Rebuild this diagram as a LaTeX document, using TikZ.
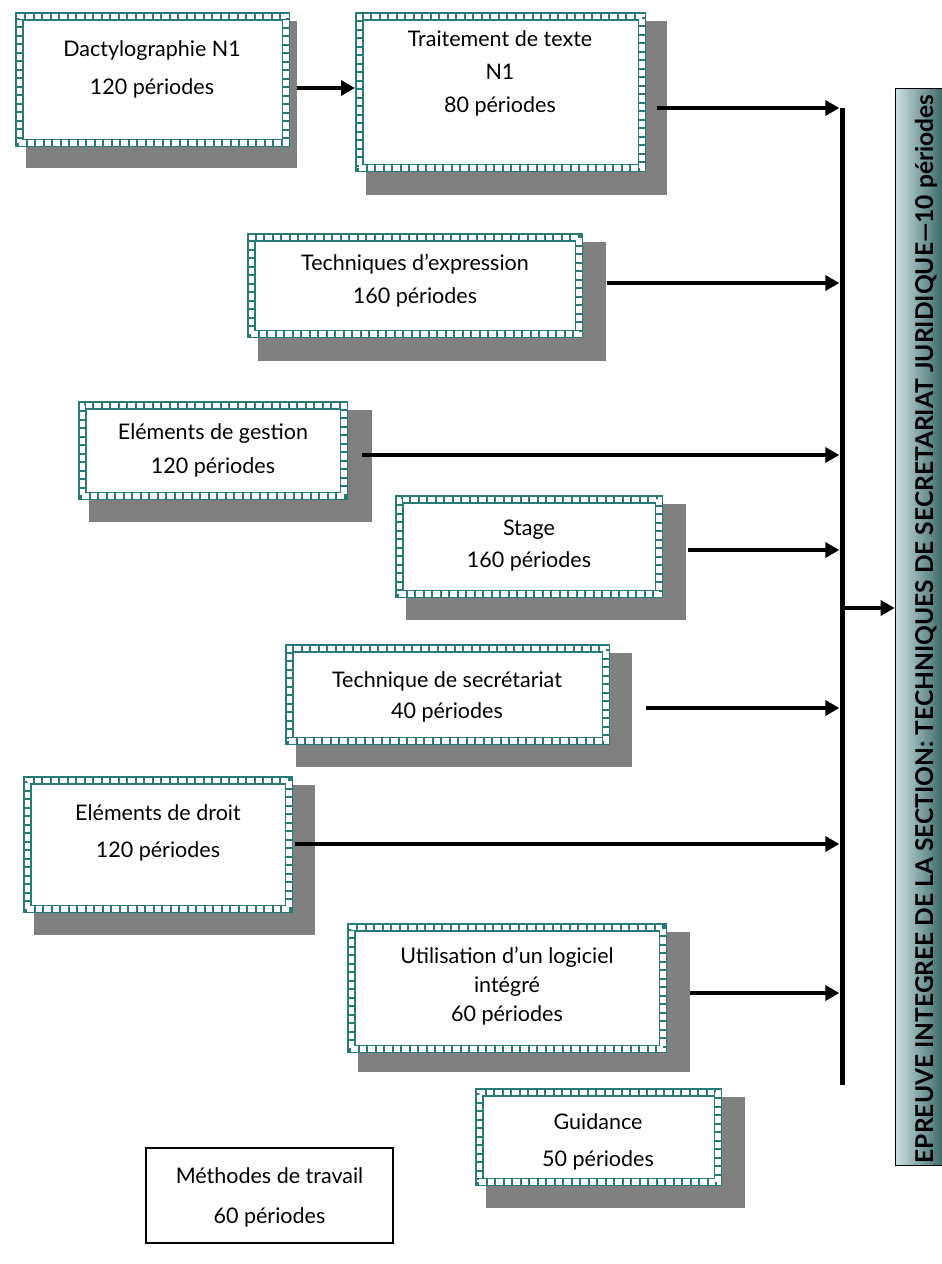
\documentclass[tikz,border=0pt]{standalone}
\usepackage{fontspec}
\setmainfont{Lato}
\usetikzlibrary{arrows.meta}
\definecolor{chain}{RGB}{40,122,118}
\definecolor{shadowgray}{RGB}{128,128,128}
\definecolor{barlight}{RGB}{205,225,225}
\definecolor{bardark}{RGB}{62,108,106}
\tikzset{
  chainbox/.style={draw=chain, line width=8.5pt, fill=white, inner sep=0pt, outer sep=4.25pt,
    postaction={draw=white, line width=5.5pt, dash pattern=on 6.5pt off 2pt}},
  plainbox/.style={draw=black, line width=1.6pt, fill=white, inner sep=0pt, outer sep=0.8pt},
  boxtext/.style={align=center, font=\fontsize{21.5}{#1}\selectfont, inner sep=0pt},
  arr/.style={line width=4pt, -{Triangle[length=14pt,width=15pt]}},
}
% name, x1, y1, x2, y2, shadow x2, shadow y2
\newcommand\chainnode[7]{%
  \fill[shadowgray] ({#2+11},{#3+9}) rectangle (#6,#7);
  \node[chainbox, minimum width={(#4-#2-8.5)*1pt}, minimum height={(#5-#3-8.5)*1pt}]
    (#1) at ({(#2+#4)/2},{(#3+#5)/2}) {};
}
\begin{document}
\begin{tikzpicture}[x=1pt, y=-1pt]
\useasboundingbox (0,0) rectangle (942,1264);
\fill[white] (0,0) rectangle (942,1264);

% boxes
\chainnode{dact}{15}{12}{290}{147}{297}{168}
\node[boxtext=38] (dactT) at (152,69) {Dactylographie N1\\120 périodes};

\chainnode{trait}{355}{12}{646}{172}{667}{195}
\node[boxtext=33] (traitT) at (500,73) {Traitement de texte\\N1\\80 périodes};

\chainnode{expr}{247}{233}{583}{338}{606}{361}
\node[boxtext=33] (exprT) at (415,281) {Techniques d’expression\\160 périodes};

\chainnode{gest}{78}{401}{348}{500}{372}{522}
\node[boxtext=34] (gestT) at (213,450) {Eléments de gestion\\120 périodes};

\chainnode{stage}{395}{495}{663}{598}{686}{620}
\node[boxtext=32] (stageT) at (529,546) {Stage\\160 périodes};

\chainnode{secr}{285}{644}{610}{745}{632}{767}
\node[boxtext=31] (secrT) at (447,697) {Technique de secrétariat\\40 périodes};

\chainnode{droit}{23}{776}{293}{913}{315}{935}
\node[boxtext=37] (droitT) at (158,833) {Eléments de droit\\120 périodes};

\chainnode{util}{347}{923}{667}{1053}{690}{1072}
\node[boxtext=29] (utilT) at (507,986) {Utilisation d’un logiciel\\intégré\\60 périodes};

\chainnode{guid}{475}{1088}{722}{1186}{745}{1208}
\node[boxtext=37] (guidT) at (598,1142) {Guidance\\50 périodes};

\node[plainbox, minimum width=247pt, minimum height=95pt] (meth) at (269.5,1195.5) {};
\node[boxtext=40] (methT) at (269.5,1197) {Méthodes de travail\\60 périodes};

% right box
\node[draw=black, line width=0.8pt, left color=barlight, middle color=barlight!75!bardark, right color=bardark,
      minimum width=47pt, minimum height=1077pt, inner sep=0pt] (epreuve) at (918.5,626.5) {};
\node[rotate=90, inner sep=0pt] (epreuveT) at (926,629)
  {\resizebox{1068pt}{!}{\bfseries EPREUVE INTEGREE DE LA SECTION: TECHNIQUES DE SECRETARIAT JURIDIQUE—10 périodes}};

% vertical bar
\node[fill=black, minimum width=5pt, minimum height=977pt, inner sep=0pt] (bar) at (842,596.5) {};

% connectors
\coordinate (s0) at (297,88);
\draw[arr] (s0) -- (s0 -| trait.west);
\coordinate (s1) at (657,108);
\draw[arr] (s1) -- (s1 -| bar.west);
\coordinate (s2) at (607,283);
\draw[arr] (s2) -- (s2 -| bar.west);
\coordinate (s3) at (362,455);
\draw[arr] (s3) -- (s3 -| bar.west);
\coordinate (s4) at (688,550);
\draw[arr] (s4) -- (s4 -| bar.west);
\coordinate (s5) at (646,708);
\draw[arr] (s5) -- (s5 -| bar.west);
\coordinate (s6) at (295,844);
\draw[arr] (s6) -- (s6 -| bar.west);
\coordinate (s7) at (690,993);
\draw[arr] (s7) -- (s7 -| bar.west);
\coordinate (s8) at (844.5,608);
\draw[arr] (s8) -- (s8 -| epreuve.west);
\end{tikzpicture}
\end{document}
